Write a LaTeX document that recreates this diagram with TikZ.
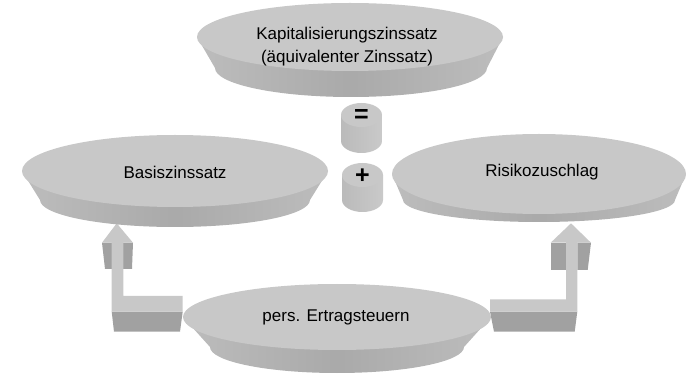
\documentclass[tikz,border=0pt]{standalone}
\usepackage{fontspec}
\setmainfont{Liberation Sans}
\usetikzlibrary{shapes.geometric}
\definecolor{facegray}{gray}{0.785}
\definecolor{sideA}{gray}{0.74}
\definecolor{sideB}{gray}{0.665}
\definecolor{cylA}{gray}{0.73}
\definecolor{cylB}{gray}{0.79}
\definecolor{arrowdark}{gray}{0.63}
\definecolor{arrowlight}{gray}{0.785}
\tikzset{
  face/.style={ellipse, fill=facegray, draw=none, inner sep=0pt},
  discside/.style={left color=sideA, right color=sideA, middle color=sideB, draw=none},
  cylside/.style={left color=cylA, right color=cylB, draw=none},
  label/.style={font=\fontsize{17}{23}\selectfont, align=center, text=black},
  sign/.style={font=\fontsize{25}{27}\selectfont\bfseries, text=black},
  adark/.style={fill=arrowdark, draw=none},
  alight/.style={fill=arrowlight, draw=none}
}
% #1 name, #2 cx, #3 cy, #4 rx, #5 ry, #6 bottom cx, #7 bottom cy, #8 rx2, #9 ry2
\newcommand\mydisc[9]{%
  \path[discside] (#2-#4,#3) -- (#2+#4,#3) -- (#6+#8,#7) -- (#6-#8,#7) -- cycle
     (#6,#7) ellipse[x radius=#8, y radius=#9];
  \node[face, minimum width=2*#4 pt, minimum height=2*#5 pt] (#1) at (#2,#3) {};
}
% #1 name, #2 cx, #3 cy top, #4 rx, #5 ry, #6 cy bottom
\newcommand\mycyl[6]{%
  \path[cylside] (#2-#4,#3) -- (#2+#4,#3) -- (#2+#4,#6) -- (#2-#4,#6) -- cycle
     (#2,#6) ellipse[x radius=#4, y radius=#5];
  \node[face, minimum width=2*#4 pt, minimum height=2*#5 pt] (#1) at (#2,#3) {};
}
\begin{document}
\begin{tikzpicture}[x=1pt,y=-1pt]
\useasboundingbox (0,0) rectangle (686,374);

% left arrow
\path[adark] (102,242.7) -- (112,242.7) -- (112,269) -- (105,269) -- cycle;
\path[adark] (123,242.7) -- (133,242.7) -- (132,269) -- (123,269) -- cycle;
\path[adark] (111.7,311.7) -- (182.7,311.7) -- (180,331.7) -- (114,331.7) -- cycle;
\path[alight] (102,242.7) -- (116.7,223.3) -- (133,242.7) -- (123.3,242.7) -- (123.3,296) -- (182.7,296) -- (182.7,311.7) -- (111.7,311.7) -- (111.7,242.7) -- cycle;

% right arrow
\path[adark] (550.7,242.7) -- (566,242.7) -- (566,270) -- (550.7,270) -- cycle;
\path[adark] (577.3,242.7) -- (591,242.7) -- (587.7,270) -- (577.3,270) -- cycle;
\path[adark] (490,311.7) -- (577.3,311.7) -- (574.7,331.7) -- (494,331.7) -- cycle;
\path[alight] (550.7,242.7) -- (571,223.3) -- (591,242.7) -- (577.3,242.7) -- (577.3,311.7) -- (490,311.7) -- (490,299.3) -- (566,299.3) -- (566,242.7) -- cycle;

% discs
\mydisc{kapface}{350}{37}{153}{34}{351}{68}{136}{29}
\mydisc{basface}{175}{171}{153}{36}{175}{200}{135}{27}
\mydisc{risface}{539}{174}{147}{40}{539}{200}{136}{22}
\mydisc{ertface}{337}{317}{154}{33}{337}{347}{127}{26}

% cylinders
\mycyl{eqcyl}{361.5}{115}{20.5}{12}{141}
\mycyl{pluscyl}{362.5}{175}{20.5}{12}{200}

% texts
\node[label] (kap) at (347,47) {Kapitalisierungszinssatz\\(äquivalenter Zinssatz)};
\node[label] (bas) at (175,172) {Basiszinssatz};
\node[label] (ris) at (542,172) {Risikozuschlag};
\node[label] (ert) at (336,317) {pers. Ertragsteuern};
\node[sign] (eq) at (361.5,116) {=};
\node[sign] (plus) at (362.5,176) {+};
\end{tikzpicture}
\end{document}
